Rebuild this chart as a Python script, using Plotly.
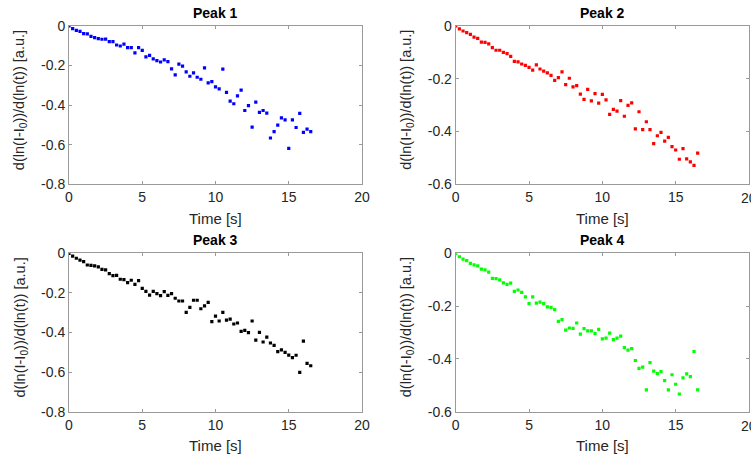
import plotly.graph_objects as go

# sample times [s]
time_s = [0, 0.25, 0.5, 0.75, 1, 1.25, 1.5, 1.75, 2, 2.25, 2.5, 2.75, 3, 3.25, 3.5, 3.75,
          4, 4.25, 4.5, 4.75, 5, 5.25, 5.5, 5.75, 6, 6.25, 6.5, 6.75, 7, 7.25, 7.5, 7.75,
          8, 8.25, 8.5, 8.75, 9, 9.25, 9.5, 9.75, 10, 10.25, 10.5, 10.75, 11, 11.25, 11.5, 11.75,
          12, 12.25, 12.5, 12.75, 13, 13.25, 13.5, 13.75, 14, 14.25, 14.5, 14.75, 15, 15.25, 15.5, 15.75,
          16, 16.25, 16.5]

peak1 = [0, -0.013, -0.022, -0.027, -0.039, -0.040, -0.052, -0.059, -0.064, -0.067, -0.066, -0.079,
         -0.079, -0.096, -0.101, -0.092, -0.109, -0.109, -0.136, -0.109, -0.123, -0.156, -0.148, -0.166,
         -0.175, -0.182, -0.171, -0.180, -0.217, -0.247, -0.193, -0.203, -0.232, -0.254, -0.237, -0.259,
         -0.269, -0.212, -0.287, -0.281, -0.308, -0.318, -0.218, -0.335, -0.380, -0.393, -0.353, -0.324,
         -0.427, -0.402, -0.511, -0.385, -0.437, -0.427, -0.440, -0.566, -0.534, -0.501, -0.464, -0.474,
         -0.618, -0.474, -0.513, -0.442, -0.538, -0.521, -0.534]

peak2 = [0, -0.011, -0.019, -0.025, -0.032, -0.042, -0.047, -0.061, -0.062, -0.068, -0.082, -0.092,
         -0.092, -0.100, -0.105, -0.115, -0.134, -0.136, -0.144, -0.149, -0.157, -0.167, -0.147, -0.163,
         -0.171, -0.178, -0.187, -0.206, -0.196, -0.174, -0.222, -0.198, -0.231, -0.226, -0.258, -0.278,
         -0.240, -0.284, -0.256, -0.292, -0.259, -0.280, -0.335, -0.316, -0.323, -0.283, -0.342, -0.301,
         -0.291, -0.390, -0.325, -0.393, -0.363, -0.393, -0.446, -0.416, -0.403, -0.436, -0.422, -0.457,
         -0.470, -0.505, -0.465, -0.504, -0.515, -0.528, -0.482]

peak3 = [0, -0.014, -0.025, -0.034, -0.042, -0.059, -0.061, -0.064, -0.069, -0.081, -0.084, -0.103,
         -0.113, -0.111, -0.131, -0.133, -0.148, -0.136, -0.157, -0.138, -0.177, -0.192, -0.211, -0.192,
         -0.204, -0.214, -0.194, -0.212, -0.204, -0.227, -0.241, -0.241, -0.298, -0.273, -0.237, -0.237,
         -0.280, -0.266, -0.248, -0.345, -0.317, -0.342, -0.298, -0.337, -0.332, -0.357, -0.352, -0.394,
         -0.389, -0.401, -0.342, -0.439, -0.399, -0.448, -0.423, -0.453, -0.465, -0.497, -0.488, -0.500,
         -0.514, -0.527, -0.515, -0.601, -0.444, -0.556, -0.568]

peak4 = [0, -0.013, -0.022, -0.028, -0.038, -0.044, -0.048, -0.060, -0.063, -0.071, -0.095, -0.096,
         -0.101, -0.112, -0.118, -0.113, -0.144, -0.139, -0.148, -0.165, -0.191, -0.165, -0.189, -0.185,
         -0.191, -0.203, -0.205, -0.213, -0.258, -0.251, -0.291, -0.283, -0.284, -0.264, -0.306, -0.285,
         -0.294, -0.294, -0.304, -0.288, -0.324, -0.321, -0.302, -0.327, -0.321, -0.314, -0.357, -0.367,
         -0.361, -0.406, -0.436, -0.431, -0.517, -0.414, -0.446, -0.456, -0.448, -0.482, -0.517, -0.460,
         -0.496, -0.533, -0.472, -0.457, -0.467, -0.372, -0.517]

titles = ["Peak 1", "Peak 2", "Peak 3", "Peak 4"]
series = [peak1, peak2, peak3, peak4]
colors = ["#0000ff", "#ff0000", "#000000", "#00ff00"]
y_mins = [-0.8, -0.6, -0.8, -0.6]
x_ticks = [0, 5, 10, 15, 20]

W, H = 751, 459
FONT = "Liberation Sans, Arial, sans-serif"
# axes boxes in pixels: (left, right, top, bottom)
boxes = [(69, 362, 26, 184.3), (455.7, 749, 26, 184.3),
         (69, 362, 253.3, 411.7), (455.7, 749, 253.3, 411.7)]

fig = go.Figure()
annotations = []
for i, (name, vals, col, ymin, box) in enumerate(zip(titles, series, colors, y_mins, boxes)):
    n = "" if i == 0 else str(i + 1)
    fig.add_trace(go.Scatter(
        x=time_s, y=vals, mode="markers",
        marker=dict(color=col, size=3.2, symbol="square", line=dict(width=0)),
        xaxis="x" + n, yaxis="y" + n, showlegend=False
    ))
    l, r, t, b = box
    yt = []
    v = 0.0
    while v >= ymin - 1e-9:
        yt.append(round(v, 1))
        v -= 0.2
    axis_style = dict(showline=True, linecolor="#9a9a9a", linewidth=1, mirror="allticks",
                      ticks="inside", ticklen=3, tickcolor="#9a9a9a", showgrid=False,
                      zeroline=False, automargin=False,
                      tickfont=dict(family=FONT, size=14, color="#262626"))
    fig.update_layout(**{
        "xaxis" + n: dict(domain=[l / W, r / W], range=[0, 20], tickvals=x_ticks,
                          ticktext=[str(x) for x in x_ticks],
                          anchor="y" + n, **axis_style),
        "yaxis" + n: dict(domain=[1 - b / H, 1 - t / H], range=[ymin, 0], tickvals=yt,
                          ticktext=["0" if y == 0 else f"{y:.1f}" for y in yt],
                          anchor="x" + n, **axis_style),
    })
    # subplot title, x label and y label
    annotations.append(dict(text="<b>" + name + "</b>", x=(l + r) / 2 / W, y=1 - (t - 3) / H,
                            xref="paper", yref="paper", xanchor="center", yanchor="bottom",
                            showarrow=False, font=dict(family=FONT, size=14, color="#000000")))
    annotations.append(dict(text="Time [s]", x=(l + r) / 2 / W, y=1 - (b + 34) / H,
                            xref="paper", yref="paper", xanchor="center", yanchor="middle",
                            showarrow=False, font=dict(family=FONT, size=15, color="#262626")))
    annotations.append(dict(text="d(ln(I-I<sub>0</sub>))/d(ln(t)) [a.u.]", textangle=-90,
                            x=(l - 49) / W, y=1 - ((t + b) / 2 - 5) / H,
                            xref="paper", yref="paper", xanchor="center", yanchor="middle",
                            showarrow=False, font=dict(family=FONT, size=14.5, color="#262626")))
    if r > W - 10:
        # the last x tick label runs off the right edge, as in the original figure
        annotations.append(dict(text="20", x=r / W, y=1 - (b + 14) / H,
                                xref="paper", yref="paper", xanchor="center", yanchor="middle",
                                showarrow=False, font=dict(family=FONT, size=14, color="#262626")))

fig.update_layout(
    width=W, height=H,
    margin=dict(l=0, r=0, t=0, b=0),
    paper_bgcolor="white", plot_bgcolor="white",
    annotations=annotations
)

# drop the page's default body margin so the figure fills the window
fig.write_html("out.html", config={"displayModeBar": False},
               post_script="document.body.style.margin='0px';")
